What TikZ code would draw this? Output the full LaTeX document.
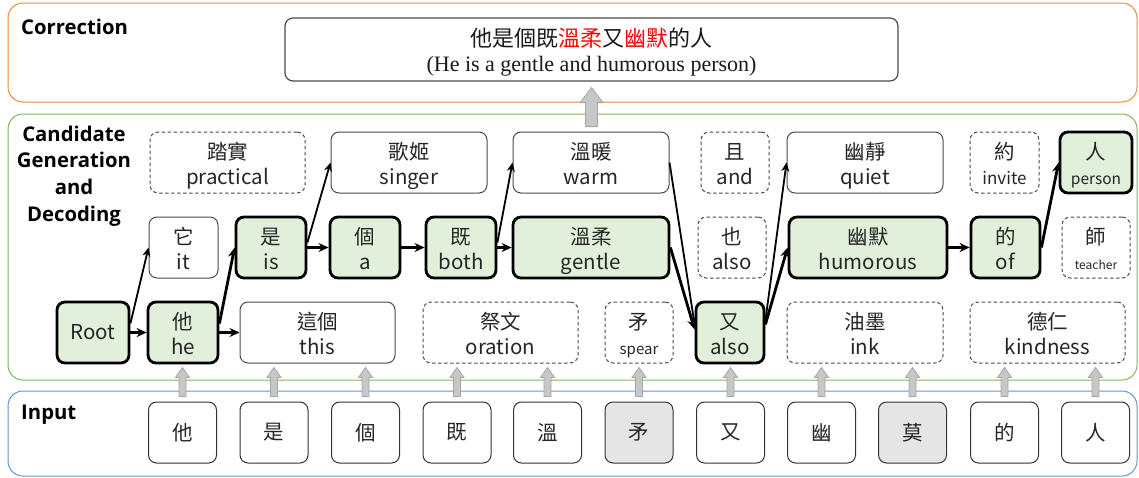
\documentclass[tikz,border=0pt]{standalone}
\usepackage{fontspec}
\newfontfamily\cjk{Noto Sans CJK TC}
\newfontfamily\tnr{Liberation Serif}
\newfontfamily\labf{Open Sans}
\usetikzlibrary{arrows.meta}
\definecolor{selg}{HTML}{E2EFDA}
\definecolor{orangeC}{HTML}{F08A3C}
\definecolor{greenC}{HTML}{7DB95A}
\definecolor{blueC}{HTML}{5B9BD5}
\newcommand\twoline[2]{\rule{0pt}{24pt}#1\\#2\rule[-5pt]{0pt}{5pt}}
\newcommand\fs[1]{\fontsize{#1}{25}\selectfont}
\tikzset{
  nbase/.style={rounded corners=8pt, align=center, inner sep=0pt, text=black!85,
    font=\cjk\fontsize{20.5}{25}\selectfont, minimum height=61pt},
  sel/.style={nbase, draw=black, line width=2.8pt, fill=selg},
  cand/.style={nbase, draw=black!70, line width=1pt},
  drop/.style={nbase, draw=black!70, line width=1pt, dash pattern=on 3.5pt off 2.5pt},
  inp/.style={nbase, draw=black!80, line width=1pt, minimum width=68pt},
  inpg/.style={inp, fill=black!10},
  mw/.style={minimum width=#1pt},
  pth/.style={line width=2.8pt, -{Stealth[length=10pt,width=9pt]}},
  alt/.style={line width=1.8pt, -{Stealth[length=9pt,width=8pt]}},
  garr/.style={fill=black!22, draw=black!35, line width=0.8pt},
  panel/.style={rounded corners=15pt, line width=1pt},
  lab/.style={font=\labf\bfseries\fontsize{20.3}{26.7}\selectfont, inner sep=0pt, text=black},
  corrbox/.style={draw=black!70, line width=1.2pt, rounded corners=8pt, minimum width=613pt,
    minimum height=63pt, align=center, inner sep=0pt, text=black!90, font=\fontsize{22}{25}\selectfont},
}
\begin{document}
\begin{tikzpicture}[x=1pt,y=-1pt]
\useasboundingbox[fill=white] (0,0) rectangle (1139,477);

% panels
\draw[panel, draw=orangeC] (8,3) rectangle (1137,102);
\draw[panel, draw=greenC] (8,114) rectangle (1137,380);
\draw[panel, draw=blueC] (8,391) rectangle (1137,476);

% panel labels
\node[lab, anchor=west] (lcorr) at (21,27) {Correction};
\node[lab, align=center] (lcand) at (74,176) {Candidate\\Generation\\and\\Decoding};
\node[lab, anchor=west] (linp) at (21,415) {Input};

% correction
\node[corrbox] (corr) at (591.5,49.5) {\rule{0pt}{24.8pt}{\cjk 他是個既\textcolor{red}{溫柔}又\textcolor{red}{幽默}的人}\\{\tnr (He is a gentle and humorous person)}\rule[-6pt]{0pt}{6pt}};

% top row
\node[drop, mw=155] (practical) at (227.5,162.5) {\twoline{踏實}{practical}};
\node[cand, mw=156] (singer) at (409,162.5) {\twoline{歌姬}{singer}};
\node[cand, mw=156] (warm) at (591,162.5) {\twoline{溫暖}{warm}};
\node[drop, mw=68] (and) at (735,162.5) {\twoline{且}{and}};
\node[cand, mw=156] (quiet) at (865,162.5) {\twoline{幽靜}{quiet}};
\node[drop, mw=69] (invite) at (1004.5,162.5) {\twoline{約}{\fs{17}invite}};
\node[sel, mw=72] (person) at (1096,162.5) {\twoline{人}{\fs{15.5}person}};

% middle row
\node[cand, mw=69] (it) at (183.5,247.5) {\twoline{它}{it}};
\node[sel, mw=70] (is) at (271,247.5) {\twoline{是}{is}};
\node[sel, mw=70] (a) at (365,247.5) {\twoline{個}{a}};
\node[sel, mw=70] (both) at (461,247.5) {\twoline{既}{both}};
\node[sel, mw=156] (gentle) at (591,247.5) {\twoline{溫柔}{gentle}};
\node[drop, mw=68] (ye) at (732,247.5) {\twoline{也}{also}};
\node[sel, mw=158] (humorous) at (868,247.5) {\twoline{幽默}{humorous}};
\node[sel, mw=69] (of) at (1005.5,247.5) {\twoline{的}{of}};
\node[drop, mw=68] (teacher) at (1096,247.5) {\twoline{師}{\fs{12}teacher}};

% bottom row
\node[sel, mw=72] (root) at (93,332.5) {Root};
\node[sel, mw=70] (he) at (183,332.5) {\twoline{他}{he}};
\node[cand, mw=155] (this) at (317.5,332.5) {\twoline{這個}{this}};
\node[drop, mw=155] (oration) at (500.5,332.5) {\twoline{祭文}{oration}};
\node[drop, mw=68] (spear) at (639,332.5) {\twoline{矛}{\fs{15}spear}};
\node[sel, mw=68] (you) at (730,332.5) {\twoline{又}{also}};
\node[drop, mw=156] (ink) at (865,332.5) {\twoline{油墨}{ink}};
\node[drop, mw=155] (kindness) at (1047.5,332.5) {\twoline{德仁}{kindness}};

% input row
\node[inp] (i1) at (182.5,432.5) {他};
\node[inp] (i2) at (274,432.5) {是};
\node[inp] (i3) at (365.5,432.5) {個};
\node[inp] (i4) at (457,432.5) {既};
\node[inp] (i5) at (547.5,432.5) {溫};
\node[inpg] (i6) at (639,432.5) {矛};
\node[inp] (i7) at (730.5,432.5) {又};
\node[inp] (i8) at (821.5,432.5) {幽};
\node[inpg] (i9) at (912.5,432.5) {莫};
\node[inp] (i10) at (1004.5,432.5) {的};
\node[inp] (i11) at (1095.5,432.5) {人};

% grey input arrows
\foreach \n in {i1,i2,i3,i4,i5,i6,i7,i8,i9,i10,i11}{
  \draw[garr] ([shift={(-3.5,-5)}]\n.north) -- ++(0,-19) -- ++(-3.5,0) -- ++(7,-10) -- ++(7,10) -- ++(-3.5,0) -- ++(0,19) -- cycle;
}
% big arrow to correction
\draw[garr] ([shift={(-6,45)}]corr.south) -- ++(0,-24) -- ++(-5.5,0) -- ++(11.5,-15) -- ++(11.5,15) -- ++(-5.5,0) -- ++(0,24) -- cycle;

% connectors
\draw[pth] (root.east) -- (he.west);
\draw[alt] ([yshift=9pt]root.east) -- (it.west);
\draw[pth] (he.east) -- (this.west);
\draw[pth] ([yshift=9pt]he.east) -- (is.west);
\draw[pth] (is.east) -- (a.west);
\draw[alt] ([yshift=5pt]is.east) -- (singer.west);
\draw[pth] (a.east) -- (both.west);
\draw[pth] (both.east) -- (gentle.west);
\draw[alt] ([yshift=5pt]both.east) -- (warm.west);
\draw[alt] (warm.east) -- ([yshift=8pt]you.west);
\draw[pth] (gentle.east) -- ([yshift=3pt]you.west);
\draw[alt] ([yshift=12pt]you.east) -- (quiet.west);
\draw[pth] ([yshift=8pt]you.east) -- (humorous.west);
\draw[pth] (humorous.east) -- (of.west);
\draw[pth] (of.east) -- (person.west);
\end{tikzpicture}
\end{document}
